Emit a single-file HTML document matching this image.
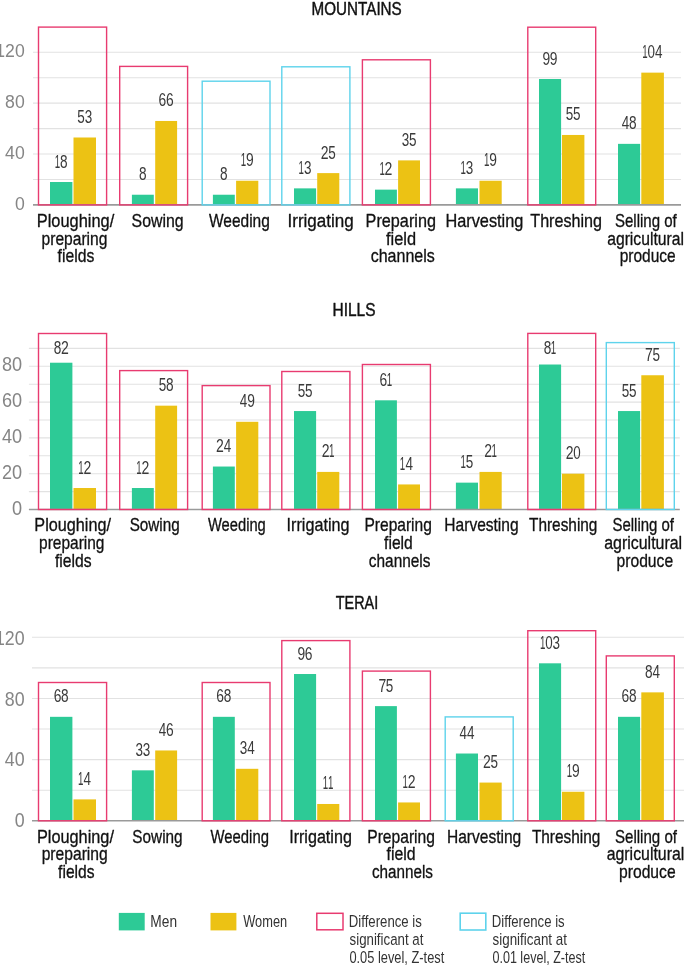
<!DOCTYPE html>
<html><head><meta charset="utf-8"><style>
html,body{margin:0;padding:0;background:#fff;}
svg{display:block;will-change:transform;}
text{font-family:"Liberation Sans",sans-serif;}
</style></head><body>
<svg width="685" height="965" viewBox="0 0 685 965">
<rect width="685" height="965" fill="#fff"/>
<line x1="33.0" x2="681.0" y1="179.47" y2="179.47" stroke="#E2E2E2" stroke-width="1.1"/>
<line x1="33.0" x2="681.0" y1="154.03" y2="154.03" stroke="#E2E2E2" stroke-width="1.1"/>
<line x1="33.0" x2="681.0" y1="128.60" y2="128.60" stroke="#E2E2E2" stroke-width="1.1"/>
<line x1="33.0" x2="681.0" y1="103.16" y2="103.16" stroke="#E2E2E2" stroke-width="1.1"/>
<line x1="33.0" x2="681.0" y1="77.73" y2="77.73" stroke="#E2E2E2" stroke-width="1.1"/>
<line x1="33.0" x2="681.0" y1="52.30" y2="52.30" stroke="#E2E2E2" stroke-width="1.1"/>
<text transform="translate(14.95,209.80) scale(0.9300,1)" font-size="19" fill="#858585">0</text>
<text transform="translate(5.12,158.93) scale(0.9300,1)" font-size="19" fill="#858585">40</text>
<text transform="translate(5.12,108.06) scale(0.9300,1)" font-size="19" fill="#858585">80</text>
<text transform="translate(-4.70,57.20) scale(0.9300,1)" font-size="19" fill="#858585">120</text>
<rect x="50.0" y="182.01" width="22.40" height="22.89" fill="#2DCA96"/>
<rect x="73.5" y="137.50" width="22.50" height="67.40" fill="#ECC214"/>
<rect x="131.9" y="194.73" width="21.90" height="10.17" fill="#2DCA96"/>
<rect x="155.2" y="120.97" width="21.90" height="83.93" fill="#ECC214"/>
<rect x="212.9" y="194.73" width="21.90" height="10.17" fill="#2DCA96"/>
<rect x="236.1" y="180.74" width="22.20" height="24.16" fill="#ECC214"/>
<rect x="294.0" y="188.37" width="22.10" height="16.53" fill="#2DCA96"/>
<rect x="317.2" y="173.11" width="22.10" height="31.79" fill="#ECC214"/>
<rect x="375.0" y="189.64" width="21.90" height="15.26" fill="#2DCA96"/>
<rect x="398.1" y="160.39" width="21.90" height="44.51" fill="#ECC214"/>
<rect x="455.9" y="188.37" width="22.10" height="16.53" fill="#2DCA96"/>
<rect x="479.5" y="180.74" width="22.20" height="24.16" fill="#ECC214"/>
<rect x="539.0" y="79.00" width="22.10" height="125.90" fill="#2DCA96"/>
<rect x="562.0" y="134.96" width="22.40" height="69.94" fill="#ECC214"/>
<rect x="618.0" y="143.86" width="22.10" height="61.04" fill="#2DCA96"/>
<rect x="641.3" y="72.64" width="22.60" height="132.26" fill="#ECC214"/>
<line x1="33.0" x2="681.0" y1="204.90" y2="204.90" stroke="#9A9A9A" stroke-width="1.6"/>
<rect x="38.5" y="27.1" width="68.10" height="177.80" fill="none" stroke="#E83B70" stroke-width="1.4"/>
<rect x="119.7" y="66.4" width="67.90" height="138.50" fill="none" stroke="#E83B70" stroke-width="1.4"/>
<rect x="202.2" y="81.2" width="67.80" height="123.70" fill="none" stroke="#5ED3EC" stroke-width="1.4"/>
<rect x="281.8" y="66.8" width="68.10" height="138.10" fill="none" stroke="#5ED3EC" stroke-width="1.4"/>
<rect x="362.4" y="59.8" width="68.00" height="145.10" fill="none" stroke="#E83B70" stroke-width="1.4"/>
<rect x="527.8" y="27.2" width="67.90" height="177.70" fill="none" stroke="#E83B70" stroke-width="1.4"/>
<text transform="translate(54.71,167.51) scale(0.5255,1)" font-size="18.5" fill="#3a3a3a">1</text>
<text transform="translate(59.96,167.51) scale(0.7361,1)" font-size="18.5" fill="#3a3a3a">8</text>
<text transform="translate(77.36,123.00) scale(0.7283,1)" font-size="18.5" fill="#3a3a3a">5</text>
<text transform="translate(84.69,123.00) scale(0.7283,1)" font-size="18.5" fill="#3a3a3a">3</text>
<text transform="translate(139.06,180.23) scale(0.7361,1)" font-size="18.5" fill="#3a3a3a">8</text>
<text transform="translate(158.61,106.47) scale(0.7472,1)" font-size="18.5" fill="#3a3a3a">6</text>
<text transform="translate(165.91,106.47) scale(0.7472,1)" font-size="18.5" fill="#3a3a3a">6</text>
<text transform="translate(220.06,180.23) scale(0.7361,1)" font-size="18.5" fill="#3a3a3a">8</text>
<text transform="translate(240.71,166.24) scale(0.5255,1)" font-size="18.5" fill="#3a3a3a">1</text>
<text transform="translate(245.91,166.24) scale(0.7472,1)" font-size="18.5" fill="#3a3a3a">9</text>
<text transform="translate(298.56,173.87) scale(0.5255,1)" font-size="18.5" fill="#3a3a3a">1</text>
<text transform="translate(303.89,173.87) scale(0.7283,1)" font-size="18.5" fill="#3a3a3a">3</text>
<text transform="translate(320.70,158.61) scale(0.7587,1)" font-size="18.5" fill="#3a3a3a">2</text>
<text transform="translate(328.16,158.61) scale(0.7283,1)" font-size="18.5" fill="#3a3a3a">5</text>
<text transform="translate(379.46,175.14) scale(0.5255,1)" font-size="18.5" fill="#3a3a3a">1</text>
<text transform="translate(384.60,175.14) scale(0.7587,1)" font-size="18.5" fill="#3a3a3a">2</text>
<text transform="translate(401.69,145.89) scale(0.7283,1)" font-size="18.5" fill="#3a3a3a">3</text>
<text transform="translate(408.96,145.89) scale(0.7283,1)" font-size="18.5" fill="#3a3a3a">5</text>
<text transform="translate(460.46,173.87) scale(0.5255,1)" font-size="18.5" fill="#3a3a3a">1</text>
<text transform="translate(465.79,173.87) scale(0.7283,1)" font-size="18.5" fill="#3a3a3a">3</text>
<text transform="translate(484.11,166.24) scale(0.5255,1)" font-size="18.5" fill="#3a3a3a">1</text>
<text transform="translate(489.31,166.24) scale(0.7472,1)" font-size="18.5" fill="#3a3a3a">9</text>
<text transform="translate(542.56,64.50) scale(0.7472,1)" font-size="18.5" fill="#3a3a3a">9</text>
<text transform="translate(549.86,64.50) scale(0.7472,1)" font-size="18.5" fill="#3a3a3a">9</text>
<text transform="translate(565.81,120.46) scale(0.7283,1)" font-size="18.5" fill="#3a3a3a">5</text>
<text transform="translate(573.11,120.46) scale(0.7283,1)" font-size="18.5" fill="#3a3a3a">5</text>
<text transform="translate(621.70,129.36) scale(0.7279,1)" font-size="18.5" fill="#3a3a3a">4</text>
<text transform="translate(629.11,129.36) scale(0.7361,1)" font-size="18.5" fill="#3a3a3a">8</text>
<text transform="translate(642.26,58.14) scale(0.5255,1)" font-size="18.5" fill="#3a3a3a">1</text>
<text transform="translate(647.58,58.14) scale(0.7222,1)" font-size="18.5" fill="#3a3a3a">0</text>
<text transform="translate(655.10,58.14) scale(0.7279,1)" font-size="18.5" fill="#3a3a3a">4</text>
<text transform="translate(311.54,14.70) scale(0.8323,1)" font-size="18.3" fill="#111111" stroke="#111111" stroke-width="0.45" stroke-linejoin="round">MOUNTAINS</text>
<text transform="translate(36.80,227.30) scale(0.8812,1)" font-size="18.6" fill="#111111" stroke="#111111" stroke-width="0.32" stroke-linejoin="round">Ploughing/</text>
<text transform="translate(41.54,244.85) scale(0.8390,1)" font-size="18.6" fill="#111111" stroke="#111111" stroke-width="0.32" stroke-linejoin="round">preparing</text>
<text transform="translate(57.62,262.40) scale(0.8457,1)" font-size="18.6" fill="#111111" stroke="#111111" stroke-width="0.32" stroke-linejoin="round">fields</text>
<text transform="translate(131.62,227.30) scale(0.8533,1)" font-size="18.6" fill="#111111" stroke="#111111" stroke-width="0.32" stroke-linejoin="round">Sowing</text>
<text transform="translate(208.97,227.30) scale(0.8332,1)" font-size="18.6" fill="#111111" stroke="#111111" stroke-width="0.32" stroke-linejoin="round">Weeding</text>
<text transform="translate(287.48,227.30) scale(0.9170,1)" font-size="18.6" fill="#111111" stroke="#111111" stroke-width="0.32" stroke-linejoin="round">Irrigating</text>
<text transform="translate(365.61,227.30) scale(0.8728,1)" font-size="18.6" fill="#111111" stroke="#111111" stroke-width="0.32" stroke-linejoin="round">Preparing</text>
<text transform="translate(386.01,244.85) scale(0.8823,1)" font-size="18.6" fill="#111111" stroke="#111111" stroke-width="0.32" stroke-linejoin="round">field</text>
<text transform="translate(370.66,262.40) scale(0.8619,1)" font-size="18.6" fill="#111111" stroke="#111111" stroke-width="0.32" stroke-linejoin="round">channels</text>
<text transform="translate(445.40,227.30) scale(0.8773,1)" font-size="18.6" fill="#111111" stroke="#111111" stroke-width="0.32" stroke-linejoin="round">Harvesting</text>
<text transform="translate(530.28,227.30) scale(0.8682,1)" font-size="18.6" fill="#111111" stroke="#111111" stroke-width="0.32" stroke-linejoin="round">Threshing</text>
<text transform="translate(614.95,227.30) scale(0.8075,1)" font-size="18.6" fill="#111111" stroke="#111111" stroke-width="0.32" stroke-linejoin="round">Selling of</text>
<text transform="translate(607.18,244.85) scale(0.8445,1)" font-size="18.6" fill="#111111" stroke="#111111" stroke-width="0.32" stroke-linejoin="round">agricultural</text>
<text transform="translate(619.64,262.40) scale(0.8332,1)" font-size="18.6" fill="#111111" stroke="#111111" stroke-width="0.32" stroke-linejoin="round">produce</text>
<line x1="28.9" x2="679.8" y1="491.60" y2="491.60" stroke="#E2E2E2" stroke-width="1.1"/>
<line x1="28.9" x2="679.8" y1="473.70" y2="473.70" stroke="#E2E2E2" stroke-width="1.1"/>
<line x1="28.9" x2="679.8" y1="455.80" y2="455.80" stroke="#E2E2E2" stroke-width="1.1"/>
<line x1="28.9" x2="679.8" y1="437.90" y2="437.90" stroke="#E2E2E2" stroke-width="1.1"/>
<line x1="28.9" x2="679.8" y1="420.00" y2="420.00" stroke="#E2E2E2" stroke-width="1.1"/>
<line x1="28.9" x2="679.8" y1="402.10" y2="402.10" stroke="#E2E2E2" stroke-width="1.1"/>
<line x1="28.9" x2="679.8" y1="384.20" y2="384.20" stroke="#E2E2E2" stroke-width="1.1"/>
<line x1="28.9" x2="679.8" y1="366.30" y2="366.30" stroke="#E2E2E2" stroke-width="1.1"/>
<line x1="28.9" x2="679.8" y1="348.40" y2="348.40" stroke="#E2E2E2" stroke-width="1.1"/>
<text transform="translate(12.02,514.70) scale(0.9150,1)" font-size="19.8" fill="#858585">0</text>
<text transform="translate(1.94,478.70) scale(0.9150,1)" font-size="19.8" fill="#858585">20</text>
<text transform="translate(1.94,442.70) scale(0.9150,1)" font-size="19.8" fill="#858585">40</text>
<text transform="translate(1.94,406.70) scale(0.9150,1)" font-size="19.8" fill="#858585">60</text>
<text transform="translate(1.94,370.70) scale(0.9150,1)" font-size="19.8" fill="#858585">80</text>
<rect x="50.0" y="362.72" width="22.40" height="146.78" fill="#2DCA96"/>
<rect x="73.5" y="488.02" width="22.50" height="21.48" fill="#ECC214"/>
<rect x="131.9" y="488.02" width="21.90" height="21.48" fill="#2DCA96"/>
<rect x="155.2" y="405.68" width="21.90" height="103.82" fill="#ECC214"/>
<rect x="212.9" y="466.54" width="21.90" height="42.96" fill="#2DCA96"/>
<rect x="236.1" y="421.79" width="22.20" height="87.71" fill="#ECC214"/>
<rect x="294.0" y="411.05" width="22.10" height="98.45" fill="#2DCA96"/>
<rect x="317.2" y="471.91" width="22.10" height="37.59" fill="#ECC214"/>
<rect x="375.0" y="400.31" width="21.90" height="109.19" fill="#2DCA96"/>
<rect x="398.1" y="484.44" width="21.90" height="25.06" fill="#ECC214"/>
<rect x="455.9" y="482.65" width="22.10" height="26.85" fill="#2DCA96"/>
<rect x="479.5" y="471.91" width="22.20" height="37.59" fill="#ECC214"/>
<rect x="539.0" y="364.51" width="22.10" height="144.99" fill="#2DCA96"/>
<rect x="562.0" y="473.70" width="22.40" height="35.80" fill="#ECC214"/>
<rect x="618.0" y="411.05" width="22.10" height="98.45" fill="#2DCA96"/>
<rect x="641.3" y="375.25" width="22.60" height="134.25" fill="#ECC214"/>
<line x1="28.9" x2="679.8" y1="509.50" y2="509.50" stroke="#9A9A9A" stroke-width="1.6"/>
<rect x="38.5" y="333.5" width="68.10" height="176.00" fill="none" stroke="#E83B70" stroke-width="1.4"/>
<rect x="119.7" y="370.6" width="67.90" height="138.90" fill="none" stroke="#E83B70" stroke-width="1.4"/>
<rect x="202.2" y="385.6" width="67.80" height="123.90" fill="none" stroke="#E83B70" stroke-width="1.4"/>
<rect x="281.8" y="371.5" width="68.10" height="138.00" fill="none" stroke="#E83B70" stroke-width="1.4"/>
<rect x="362.4" y="364.5" width="68.00" height="145.00" fill="none" stroke="#E83B70" stroke-width="1.4"/>
<rect x="527.8" y="333.4" width="67.90" height="176.10" fill="none" stroke="#E83B70" stroke-width="1.4"/>
<rect x="606.3" y="342.6" width="68.00" height="166.90" fill="none" stroke="#5ED3EC" stroke-width="1.4"/>
<text transform="translate(53.76,354.20) scale(0.7361,1)" font-size="18.5" fill="#3a3a3a">8</text>
<text transform="translate(60.95,354.20) scale(0.7587,1)" font-size="18.5" fill="#3a3a3a">2</text>
<text transform="translate(78.26,473.52) scale(0.5255,1)" font-size="18.5" fill="#3a3a3a">1</text>
<text transform="translate(83.40,473.52) scale(0.7587,1)" font-size="18.5" fill="#3a3a3a">2</text>
<text transform="translate(136.36,473.52) scale(0.5255,1)" font-size="18.5" fill="#3a3a3a">1</text>
<text transform="translate(141.50,473.52) scale(0.7587,1)" font-size="18.5" fill="#3a3a3a">2</text>
<text transform="translate(158.76,391.18) scale(0.7283,1)" font-size="18.5" fill="#3a3a3a">5</text>
<text transform="translate(166.01,391.18) scale(0.7361,1)" font-size="18.5" fill="#3a3a3a">8</text>
<text transform="translate(216.10,452.04) scale(0.7587,1)" font-size="18.5" fill="#3a3a3a">2</text>
<text transform="translate(223.80,452.04) scale(0.7279,1)" font-size="18.5" fill="#3a3a3a">4</text>
<text transform="translate(239.85,407.29) scale(0.7279,1)" font-size="18.5" fill="#3a3a3a">4</text>
<text transform="translate(247.21,407.29) scale(0.7472,1)" font-size="18.5" fill="#3a3a3a">9</text>
<text transform="translate(297.66,396.55) scale(0.7283,1)" font-size="18.5" fill="#3a3a3a">5</text>
<text transform="translate(304.96,396.55) scale(0.7283,1)" font-size="18.5" fill="#3a3a3a">5</text>
<text transform="translate(321.80,457.41) scale(0.7587,1)" font-size="18.5" fill="#3a3a3a">2</text>
<text transform="translate(329.06,457.41) scale(0.5255,1)" font-size="18.5" fill="#3a3a3a">1</text>
<text transform="translate(379.51,385.81) scale(0.7472,1)" font-size="18.5" fill="#3a3a3a">6</text>
<text transform="translate(386.76,385.81) scale(0.5255,1)" font-size="18.5" fill="#3a3a3a">1</text>
<text transform="translate(399.86,469.94) scale(0.5255,1)" font-size="18.5" fill="#3a3a3a">1</text>
<text transform="translate(405.40,469.94) scale(0.7279,1)" font-size="18.5" fill="#3a3a3a">4</text>
<text transform="translate(460.46,468.15) scale(0.5255,1)" font-size="18.5" fill="#3a3a3a">1</text>
<text transform="translate(465.76,468.15) scale(0.7283,1)" font-size="18.5" fill="#3a3a3a">5</text>
<text transform="translate(484.15,457.41) scale(0.7587,1)" font-size="18.5" fill="#3a3a3a">2</text>
<text transform="translate(491.41,457.41) scale(0.5255,1)" font-size="18.5" fill="#3a3a3a">1</text>
<text transform="translate(543.71,354.40) scale(0.7361,1)" font-size="18.5" fill="#3a3a3a">8</text>
<text transform="translate(550.86,354.40) scale(0.5255,1)" font-size="18.5" fill="#3a3a3a">1</text>
<text transform="translate(565.65,459.20) scale(0.7587,1)" font-size="18.5" fill="#3a3a3a">2</text>
<text transform="translate(573.13,459.20) scale(0.7222,1)" font-size="18.5" fill="#3a3a3a">0</text>
<text transform="translate(621.66,396.55) scale(0.7283,1)" font-size="18.5" fill="#3a3a3a">5</text>
<text transform="translate(628.96,396.55) scale(0.7283,1)" font-size="18.5" fill="#3a3a3a">5</text>
<text transform="translate(645.03,360.75) scale(0.7603,1)" font-size="18.5" fill="#3a3a3a">7</text>
<text transform="translate(652.51,360.75) scale(0.7283,1)" font-size="18.5" fill="#3a3a3a">5</text>
<text transform="translate(332.52,315.60) scale(0.8452,1)" font-size="18.3" fill="#111111" stroke="#111111" stroke-width="0.45" stroke-linejoin="round">HILLS</text>
<text transform="translate(34.31,531.40) scale(0.8731,1)" font-size="18.6" fill="#111111" stroke="#111111" stroke-width="0.32" stroke-linejoin="round">Ploughing/</text>
<text transform="translate(39.04,548.95) scale(0.8324,1)" font-size="18.6" fill="#111111" stroke="#111111" stroke-width="0.32" stroke-linejoin="round">preparing</text>
<text transform="translate(54.92,566.50) scale(0.8434,1)" font-size="18.6" fill="#111111" stroke="#111111" stroke-width="0.32" stroke-linejoin="round">fields</text>
<text transform="translate(129.64,531.40) scale(0.8212,1)" font-size="18.6" fill="#111111" stroke="#111111" stroke-width="0.32" stroke-linejoin="round">Sowing</text>
<text transform="translate(207.97,531.40) scale(0.7916,1)" font-size="18.6" fill="#111111" stroke="#111111" stroke-width="0.32" stroke-linejoin="round">Weeding</text>
<text transform="translate(286.55,531.40) scale(0.8697,1)" font-size="18.6" fill="#111111" stroke="#111111" stroke-width="0.32" stroke-linejoin="round">Irrigating</text>
<text transform="translate(364.46,531.40) scale(0.8357,1)" font-size="18.6" fill="#111111" stroke="#111111" stroke-width="0.32" stroke-linejoin="round">Preparing</text>
<text transform="translate(384.12,548.95) scale(0.8399,1)" font-size="18.6" fill="#111111" stroke="#111111" stroke-width="0.32" stroke-linejoin="round">field</text>
<text transform="translate(368.78,566.50) scale(0.8292,1)" font-size="18.6" fill="#111111" stroke="#111111" stroke-width="0.32" stroke-linejoin="round">channels</text>
<text transform="translate(444.36,531.40) scale(0.8357,1)" font-size="18.6" fill="#111111" stroke="#111111" stroke-width="0.32" stroke-linejoin="round">Harvesting</text>
<text transform="translate(528.99,531.40) scale(0.8277,1)" font-size="18.6" fill="#111111" stroke="#111111" stroke-width="0.32" stroke-linejoin="round">Threshing</text>
<text transform="translate(612.46,531.40) scale(0.8048,1)" font-size="18.6" fill="#111111" stroke="#111111" stroke-width="0.32" stroke-linejoin="round">Selling of</text>
<text transform="translate(604.17,548.95) scale(0.8579,1)" font-size="18.6" fill="#111111" stroke="#111111" stroke-width="0.32" stroke-linejoin="round">agricultural</text>
<text transform="translate(616.53,566.50) scale(0.8423,1)" font-size="18.6" fill="#111111" stroke="#111111" stroke-width="0.32" stroke-linejoin="round">produce</text>
<line x1="32.0" x2="684.0" y1="790.22" y2="790.22" stroke="#E2E2E2" stroke-width="1.1"/>
<line x1="32.0" x2="684.0" y1="759.64" y2="759.64" stroke="#E2E2E2" stroke-width="1.1"/>
<line x1="32.0" x2="684.0" y1="729.06" y2="729.06" stroke="#E2E2E2" stroke-width="1.1"/>
<line x1="32.0" x2="684.0" y1="698.48" y2="698.48" stroke="#E2E2E2" stroke-width="1.1"/>
<line x1="32.0" x2="684.0" y1="667.90" y2="667.90" stroke="#E2E2E2" stroke-width="1.1"/>
<line x1="32.0" x2="684.0" y1="637.32" y2="637.32" stroke="#E2E2E2" stroke-width="1.1"/>
<text transform="translate(14.77,826.70) scale(0.9000,1)" font-size="19.8" fill="#858585">0</text>
<text transform="translate(4.86,766.20) scale(0.9000,1)" font-size="19.8" fill="#858585">40</text>
<text transform="translate(4.86,705.70) scale(0.9000,1)" font-size="19.8" fill="#858585">80</text>
<text transform="translate(-5.05,645.20) scale(0.9000,1)" font-size="19.8" fill="#858585">120</text>
<rect x="50.0" y="716.83" width="22.40" height="103.97" fill="#2DCA96"/>
<rect x="73.5" y="799.39" width="22.50" height="21.41" fill="#ECC214"/>
<rect x="131.9" y="770.34" width="21.90" height="50.46" fill="#2DCA96"/>
<rect x="155.2" y="750.47" width="21.90" height="70.33" fill="#ECC214"/>
<rect x="212.9" y="716.83" width="21.90" height="103.97" fill="#2DCA96"/>
<rect x="236.1" y="768.81" width="22.20" height="51.99" fill="#ECC214"/>
<rect x="294.0" y="674.02" width="22.10" height="146.78" fill="#2DCA96"/>
<rect x="317.2" y="803.98" width="22.10" height="16.82" fill="#ECC214"/>
<rect x="375.0" y="706.12" width="21.90" height="114.67" fill="#2DCA96"/>
<rect x="398.1" y="802.45" width="21.90" height="18.35" fill="#ECC214"/>
<rect x="455.9" y="753.52" width="22.10" height="67.28" fill="#2DCA96"/>
<rect x="479.5" y="782.57" width="22.20" height="38.22" fill="#ECC214"/>
<rect x="539.0" y="663.31" width="22.10" height="157.49" fill="#2DCA96"/>
<rect x="562.0" y="791.75" width="22.40" height="29.05" fill="#ECC214"/>
<rect x="618.0" y="716.83" width="22.10" height="103.97" fill="#2DCA96"/>
<rect x="641.3" y="692.36" width="22.60" height="128.44" fill="#ECC214"/>
<line x1="32.0" x2="684.0" y1="820.80" y2="820.80" stroke="#9A9A9A" stroke-width="1.6"/>
<rect x="38.5" y="682.5" width="68.10" height="138.30" fill="none" stroke="#E83B70" stroke-width="1.4"/>
<rect x="202.2" y="682.5" width="67.80" height="138.30" fill="none" stroke="#E83B70" stroke-width="1.4"/>
<rect x="281.8" y="640.6" width="68.10" height="180.20" fill="none" stroke="#E83B70" stroke-width="1.4"/>
<rect x="362.4" y="671.1" width="68.00" height="149.70" fill="none" stroke="#E83B70" stroke-width="1.4"/>
<rect x="445.2" y="716.9" width="68.00" height="103.90" fill="none" stroke="#5ED3EC" stroke-width="1.4"/>
<rect x="527.8" y="630.7" width="67.90" height="190.10" fill="none" stroke="#E83B70" stroke-width="1.4"/>
<rect x="606.3" y="655.9" width="68.00" height="164.90" fill="none" stroke="#E83B70" stroke-width="1.4"/>
<text transform="translate(53.66,702.33) scale(0.7472,1)" font-size="18.5" fill="#3a3a3a">6</text>
<text transform="translate(61.06,702.33) scale(0.7361,1)" font-size="18.5" fill="#3a3a3a">8</text>
<text transform="translate(78.06,784.89) scale(0.5255,1)" font-size="18.5" fill="#3a3a3a">1</text>
<text transform="translate(83.60,784.89) scale(0.7279,1)" font-size="18.5" fill="#3a3a3a">4</text>
<text transform="translate(135.49,755.84) scale(0.7283,1)" font-size="18.5" fill="#3a3a3a">3</text>
<text transform="translate(142.79,755.84) scale(0.7283,1)" font-size="18.5" fill="#3a3a3a">3</text>
<text transform="translate(158.80,735.97) scale(0.7279,1)" font-size="18.5" fill="#3a3a3a">4</text>
<text transform="translate(166.11,735.97) scale(0.7472,1)" font-size="18.5" fill="#3a3a3a">6</text>
<text transform="translate(216.31,702.33) scale(0.7472,1)" font-size="18.5" fill="#3a3a3a">6</text>
<text transform="translate(223.71,702.33) scale(0.7361,1)" font-size="18.5" fill="#3a3a3a">8</text>
<text transform="translate(239.64,754.31) scale(0.7283,1)" font-size="18.5" fill="#3a3a3a">3</text>
<text transform="translate(247.15,754.31) scale(0.7279,1)" font-size="18.5" fill="#3a3a3a">4</text>
<text transform="translate(297.56,659.52) scale(0.7472,1)" font-size="18.5" fill="#3a3a3a">9</text>
<text transform="translate(304.81,659.52) scale(0.7472,1)" font-size="18.5" fill="#3a3a3a">6</text>
<text transform="translate(322.86,789.48) scale(0.5255,1)" font-size="18.5" fill="#3a3a3a">1</text>
<text transform="translate(327.96,789.48) scale(0.5255,1)" font-size="18.5" fill="#3a3a3a">1</text>
<text transform="translate(378.38,691.62) scale(0.7603,1)" font-size="18.5" fill="#3a3a3a">7</text>
<text transform="translate(385.86,691.62) scale(0.7283,1)" font-size="18.5" fill="#3a3a3a">5</text>
<text transform="translate(402.56,787.95) scale(0.5255,1)" font-size="18.5" fill="#3a3a3a">1</text>
<text transform="translate(407.70,787.95) scale(0.7587,1)" font-size="18.5" fill="#3a3a3a">2</text>
<text transform="translate(459.40,739.02) scale(0.7279,1)" font-size="18.5" fill="#3a3a3a">4</text>
<text transform="translate(467.10,739.02) scale(0.7279,1)" font-size="18.5" fill="#3a3a3a">4</text>
<text transform="translate(483.05,768.07) scale(0.7587,1)" font-size="18.5" fill="#3a3a3a">2</text>
<text transform="translate(490.51,768.07) scale(0.7283,1)" font-size="18.5" fill="#3a3a3a">5</text>
<text transform="translate(539.91,648.81) scale(0.5255,1)" font-size="18.5" fill="#3a3a3a">1</text>
<text transform="translate(545.23,648.81) scale(0.7222,1)" font-size="18.5" fill="#3a3a3a">0</text>
<text transform="translate(552.54,648.81) scale(0.7283,1)" font-size="18.5" fill="#3a3a3a">3</text>
<text transform="translate(566.71,777.25) scale(0.5255,1)" font-size="18.5" fill="#3a3a3a">1</text>
<text transform="translate(571.91,777.25) scale(0.7472,1)" font-size="18.5" fill="#3a3a3a">9</text>
<text transform="translate(621.51,702.33) scale(0.7472,1)" font-size="18.5" fill="#3a3a3a">6</text>
<text transform="translate(628.91,702.33) scale(0.7361,1)" font-size="18.5" fill="#3a3a3a">8</text>
<text transform="translate(644.96,677.86) scale(0.7361,1)" font-size="18.5" fill="#3a3a3a">8</text>
<text transform="translate(652.55,677.86) scale(0.7279,1)" font-size="18.5" fill="#3a3a3a">4</text>
<text transform="translate(335.76,608.70) scale(0.7884,1)" font-size="18.3" fill="#111111" stroke="#111111" stroke-width="0.45" stroke-linejoin="round">TERAI</text>
<text transform="translate(36.90,842.70) scale(0.8766,1)" font-size="18.6" fill="#111111" stroke="#111111" stroke-width="0.32" stroke-linejoin="round">Ploughing/</text>
<text transform="translate(41.63,860.25) scale(0.8416,1)" font-size="18.6" fill="#111111" stroke="#111111" stroke-width="0.32" stroke-linejoin="round">preparing</text>
<text transform="translate(58.12,877.80) scale(0.8387,1)" font-size="18.6" fill="#111111" stroke="#111111" stroke-width="0.32" stroke-linejoin="round">fields</text>
<text transform="translate(132.34,842.70) scale(0.8246,1)" font-size="18.6" fill="#111111" stroke="#111111" stroke-width="0.32" stroke-linejoin="round">Sowing</text>
<text transform="translate(210.57,842.70) scale(0.7985,1)" font-size="18.6" fill="#111111" stroke="#111111" stroke-width="0.32" stroke-linejoin="round">Weeding</text>
<text transform="translate(289.16,842.70) scale(0.8669,1)" font-size="18.6" fill="#111111" stroke="#111111" stroke-width="0.32" stroke-linejoin="round">Irrigating</text>
<text transform="translate(367.25,842.70) scale(0.8396,1)" font-size="18.6" fill="#111111" stroke="#111111" stroke-width="0.32" stroke-linejoin="round">Preparing</text>
<text transform="translate(386.61,860.25) scale(0.8520,1)" font-size="18.6" fill="#111111" stroke="#111111" stroke-width="0.32" stroke-linejoin="round">field</text>
<text transform="translate(371.89,877.80) scale(0.8210,1)" font-size="18.6" fill="#111111" stroke="#111111" stroke-width="0.32" stroke-linejoin="round">channels</text>
<text transform="translate(446.96,842.70) scale(0.8357,1)" font-size="18.6" fill="#111111" stroke="#111111" stroke-width="0.32" stroke-linejoin="round">Harvesting</text>
<text transform="translate(531.89,842.70) scale(0.8277,1)" font-size="18.6" fill="#111111" stroke="#111111" stroke-width="0.32" stroke-linejoin="round">Threshing</text>
<text transform="translate(614.95,842.70) scale(0.8114,1)" font-size="18.6" fill="#111111" stroke="#111111" stroke-width="0.32" stroke-linejoin="round">Selling of</text>
<text transform="translate(606.67,860.25) scale(0.8535,1)" font-size="18.6" fill="#111111" stroke="#111111" stroke-width="0.32" stroke-linejoin="round">agricultural</text>
<text transform="translate(619.03,877.80) scale(0.8423,1)" font-size="18.6" fill="#111111" stroke="#111111" stroke-width="0.32" stroke-linejoin="round">produce</text>
<rect x="118.8" y="912.9" width="25.9" height="17.5" fill="#2DCA96"/>
<rect x="210.5" y="912.9" width="25.9" height="17.5" fill="#ECC214"/>
<rect x="316.8" y="913.3" width="26.2" height="16.5" fill="none" stroke="#E83B70" stroke-width="1.5"/>
<rect x="460.2" y="913.2" width="25.6" height="16.8" fill="none" stroke="#5ED3EC" stroke-width="1.6"/>
<text transform="translate(150.37,927.00) scale(0.8076,1)" font-size="17" fill="#333333">Men</text>
<text transform="translate(243.25,927.00) scale(0.7548,1)" font-size="17" fill="#333333">Women</text>
<text transform="translate(348.82,926.80) scale(0.7757,1)" font-size="17" fill="#333333">Difference is</text>
<text transform="translate(349.54,944.80) scale(0.7825,1)" font-size="17" fill="#333333">significant at</text>
<text transform="translate(349.40,962.80) scale(0.7559,1)" font-size="17" fill="#333333">0.05 level, Z-test</text>
<text transform="translate(491.82,926.80) scale(0.7735,1)" font-size="17" fill="#333333">Difference is</text>
<text transform="translate(492.54,944.80) scale(0.7879,1)" font-size="17" fill="#333333">significant at</text>
<text transform="translate(492.41,962.80) scale(0.7399,1)" font-size="17" fill="#333333">0.01 level, Z-test</text>
</svg>
</body></html>
